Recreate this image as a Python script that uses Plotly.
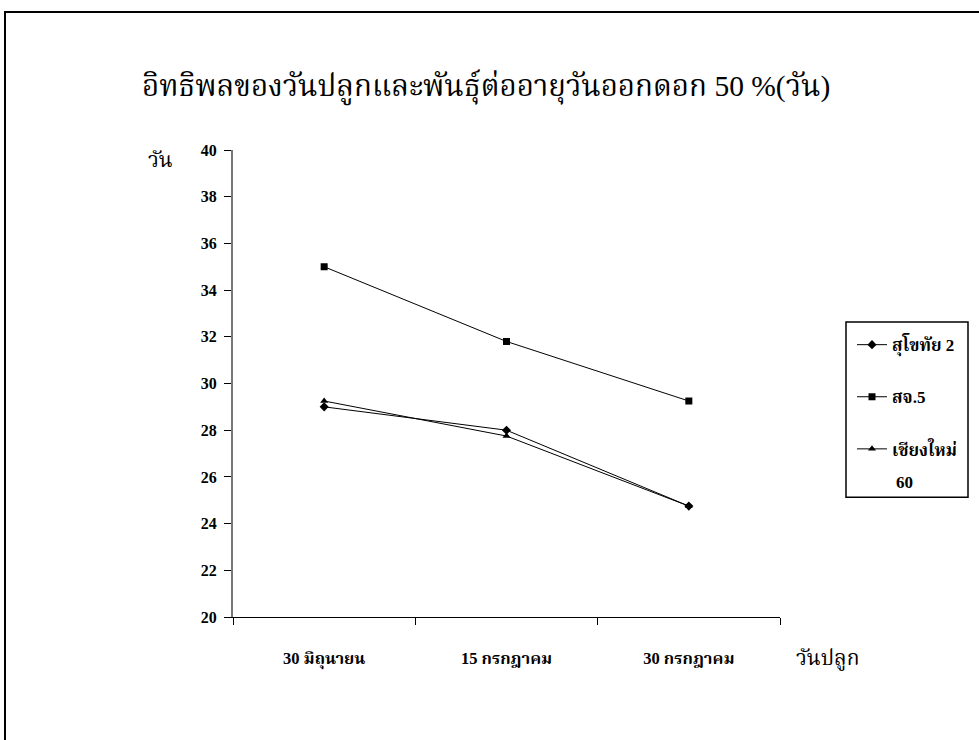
import plotly.graph_objects as go

categories = ["30 มิถุนายน", "15 กรกฎาคม", "30 กรกฎาคม"]
series_names = ["สุโขทัย 2", "สจ.5", "เชียงใหม่"]
series_name_suffix = "60"
sukhothai2 = [29.0, 28.0, 24.75]
sj5 = [35.0, 31.8, 29.25]
chiangmai60 = [29.25, 27.75, 24.75]
y_ticks = [20, 22, 24, 26, 28, 30, 32, 34, 36, 38, 40]

W, H = 979, 740
L, R, T, B = 233, 780, 150, 616.7
pw, ph = R - L, B - T

def px_x(p):
    return (p - L) / pw

def px_y(p):
    return (B - p) / ph

serif = "Liberation Serif, Times New Roman, Noto Serif Thai, Noto Sans Thai, serif"

fig = go.Figure()
symbols = ["diamond", "square", "triangle-up"]
for i, (name, vals) in enumerate(zip(series_names, [sukhothai2, sj5, chiangmai60])):
    fig.add_trace(go.Scatter(
        x=categories, y=vals, name=name, mode="lines+markers",
        line=dict(color="black", width=1),
        marker=dict(symbol=symbols[i], size=7, color="black"),
        legendgroup=f"g{i}",
    ))

fig.update_layout(
    width=W, height=H,
    margin=dict(l=L, r=W - R, t=T, b=H - B, pad=0),
    paper_bgcolor="white", plot_bgcolor="white",
    font=dict(family=serif, color="black"),
    showlegend=True,
    legend=dict(
        x=px_x(852), y=px_y(327), xanchor="left", yanchor="top",
        borderwidth=0, bgcolor="rgba(0,0,0,0)",
        font=dict(family=serif, size=17, color="black", weight="bold"),
        traceorder="grouped", tracegroupgap=27, valign="top",
        itemwidth=30,
    ),
    xaxis=dict(
        type="category", range=[-0.5, 2.5],
        showline=True, linecolor="black", linewidth=1,
        ticks="outside", ticklen=7, tickcolor="black", tickson="boundaries",
        showgrid=False, zeroline=False,
        tickfont=dict(family=serif, size=16.5, color="black", weight="bold"),
        ticklabelstandoff=26,
    ),
    yaxis=dict(
        range=[20, 40], tickvals=y_ticks,
        showline=True, linecolor="#777777", linewidth=2,
        ticks="outside", ticklen=7, tickcolor="black",
        showgrid=False, zeroline=False,
        tickfont=dict(family=serif, size=16, color="black", weight="bold"),
        ticklabelstandoff=4,
    ),
    annotations=[
        dict(text="อิทธิพลของวันปลูกและพันธุ์ต่ออายุวันออกดอก 50 %(วัน)",
             xref="paper", yref="paper", x=px_x(140), y=px_y(88),
             xanchor="left", yanchor="middle", showarrow=False,
             font=dict(family=serif, size=29.5, color="black")),
        dict(text="วัน", xref="paper", yref="paper", x=px_x(146), y=px_y(160),
             xanchor="left", yanchor="middle", showarrow=False,
             font=dict(family=serif, size=21, color="black")),
        dict(text="วันปลูก", xref="paper", yref="paper", x=px_x(794), y=px_y(658),
             xanchor="left", yanchor="middle", showarrow=False,
             font=dict(family=serif, size=21, color="black")),
        dict(text=series_name_suffix, xref="paper", yref="paper", x=px_x(894), y=px_y(482),
             xanchor="left", yanchor="middle", showarrow=False,
             font=dict(family=serif, size=17, color="black", weight="bold")),
    ],
    shapes=[
        dict(type="line", xref="paper", yref="paper",
             x0=px_x(4), x1=px_x(990), y0=px_y(12), y1=px_y(12),
             line=dict(color="black", width=2)),
        dict(type="line", xref="paper", yref="paper",
             x0=px_x(5), x1=px_x(5), y0=px_y(11), y1=px_y(760),
             line=dict(color="black", width=2)),
        dict(type="rect", xref="paper", yref="paper",
             x0=px_x(846), x1=px_x(968), y0=px_y(322), y1=px_y(497),
             line=dict(color="black", width=1.5), fillcolor="rgba(0,0,0,0)"),
    ],
)

fig.write_html(
    "out.html",
    config={"displayModeBar": False},
    post_script="document.body.style.margin='0';document.body.style.overflow='hidden';",
)
